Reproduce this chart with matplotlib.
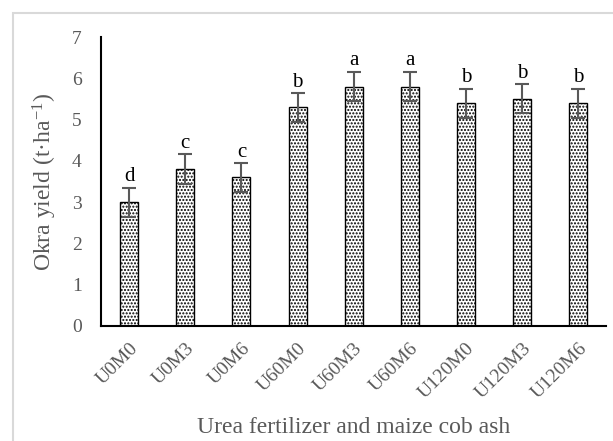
import matplotlib.pyplot as plt
import matplotlib
from matplotlib.patches import Rectangle

matplotlib.rcParams['font.family'] = ['Liberation Serif', 'DejaVu Serif']
matplotlib.rcParams['mathtext.fontset'] = 'custom'
matplotlib.rcParams['mathtext.rm'] = 'Liberation Serif'
matplotlib.rcParams['mathtext.default'] = 'regular'
matplotlib.rcParams['hatch.linewidth'] = 1.0

treatments = ['U0M0', 'U0M3', 'U0M6', 'U60M0', 'U60M3', 'U60M6',
              'U120M0', 'U120M3', 'U120M6']
yield_vals = [3.0, 3.8, 3.6, 5.3, 5.8, 5.8, 5.4, 5.5, 5.4]
errors = [0.35, 0.36, 0.35, 0.35, 0.36, 0.36, 0.35, 0.35, 0.35]
letters = ['d', 'c', 'c', 'b', 'a', 'a', 'b', 'b', 'b']

gray = '#595959'

fig = plt.figure(figsize=(6.13, 4.41), dpi=100)
# outer chart border
fig.patches.append(Rectangle((13 / 613, -0.05), 1.1, 1 - 13 / 441 + 0.05,
                             transform=fig.transFigure, fill=False,
                             edgecolor='#d9d9d9', linewidth=1.5))

ax = fig.add_axes([0.165, 0.261, 0.824, 0.655])
x = range(len(treatments))
ax.bar(x, yield_vals, width=0.32, color='white', edgecolor='black',
       linewidth=1.0, hatch='.....', zorder=2)
ax.errorbar(x, yield_vals, yerr=errors, fmt='none', ecolor=gray,
            elinewidth=1.5, capsize=5, capthick=1.5, zorder=3)
for i, (v, e, l) in enumerate(zip(yield_vals, errors, letters)):
    ax.text(i, v + e + 0.03, l, ha='center', va='bottom', fontsize=15,
            color='black')

ax.set_xlim(-0.5, 8.5)
ax.set_ylim(0, 7)
ax.set_yticks(range(8))
ax.set_xticks(list(x))
ax.set_xticklabels(treatments, rotation=45, ha='right', rotation_mode='anchor')
ax.tick_params(axis='both', length=0, labelsize=14, labelcolor=gray)
ax.tick_params(axis='y', pad=14)
ax.tick_params(axis='x', pad=10)
for s in ['top', 'right']:
    ax.spines[s].set_visible(False)
for s in ['left', 'bottom']:
    ax.spines[s].set_linewidth(1.5)
    ax.spines[s].set_color('black')

ax.set_ylabel('Okra yield (t·ha$^{-1}$)', fontsize=17, color=gray, labelpad=9)
ax.set_xlabel('Urea fertilizer and maize cob ash', fontsize=17, color=gray,
              labelpad=11)

fig.savefig('out.png', dpi=100)
